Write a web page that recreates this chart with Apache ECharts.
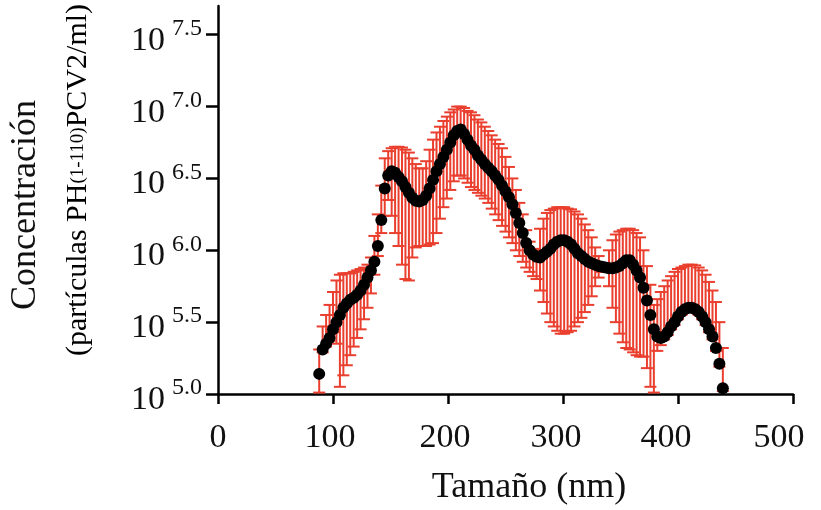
<!DOCTYPE html>
<html><head><meta charset="utf-8">
<script src="https://cdn.jsdelivr.net/npm/echarts@6/dist/echarts.min.js"></script>
<style>html,body{margin:0;padding:0;background:#fff}#c{width:821px;height:510px}</style>
</head><body><div id="c"></div>
<script>
// Particle size (nm)
const sizeNm = [88,91,94,97,100,103,106,109,112,115,118,121,124,127,130,133,136,139,142,145,148,151,154,157,160,163,166,169,172,175,178,181,184,187,190,193,196,199,202,205,208,211,214,217,220,223,226,229,232,235,238,241,244,247,250,253,256,259,262,265,268,271,274,277,280,283,286,289,292,295,298,301,304,307,310,313,316,319,322,325,328,331,334,337,340,343,346,349,352,355,358,361,364,367,370,373,376,379,382,385,388,391,394,397,400,403,406,409,412,415,418,421,424,427,430,433,436,439];
// Mean concentration, log10 exponent
const meanExp = [5.14,5.31,5.35,5.39,5.45,5.50,5.55,5.60,5.63,5.655,5.67,5.69,5.72,5.76,5.81,5.86,5.92,6.03,6.21,6.43,6.52,6.55,6.54,6.51,6.48,6.44,6.40,6.365,6.345,6.34,6.35,6.38,6.43,6.49,6.55,6.60,6.65,6.70,6.75,6.80,6.83,6.84,6.81,6.77,6.73,6.70,6.66,6.63,6.60,6.575,6.55,6.52,6.49,6.45,6.41,6.37,6.32,6.26,6.19,6.12,6.05,6.00,5.97,5.955,5.95,5.97,5.99,6.01,6.04,6.06,6.07,6.07,6.06,6.04,6.01,5.98,5.96,5.94,5.92,5.91,5.90,5.89,5.885,5.88,5.875,5.875,5.88,5.89,5.91,5.93,5.93,5.90,5.86,5.81,5.74,5.65,5.55,5.45,5.40,5.39,5.40,5.43,5.47,5.50,5.54,5.57,5.59,5.60,5.60,5.59,5.57,5.54,5.50,5.45,5.40,5.32,5.21,5.04];
// Upper end of error bar, log10 exponent
const upperExp = [5.31,5.47,5.55,5.62,5.71,5.79,5.83,5.84,5.84,5.84,5.85,5.86,5.87,5.88,5.90,5.95,6.10,6.25,6.45,6.64,6.69,6.71,6.72,6.72,6.715,6.70,6.68,6.64,6.60,6.57,6.57,6.62,6.70,6.77,6.82,6.86,6.90,6.93,6.96,6.98,7.00,7.00,6.99,6.97,6.96,6.94,6.91,6.89,6.86,6.83,6.80,6.77,6.74,6.71,6.65,6.58,6.50,6.42,6.33,6.25,6.14,6.06,6.01,6.00,6.15,6.22,6.26,6.28,6.29,6.30,6.30,6.30,6.29,6.285,6.27,6.25,6.22,6.18,6.14,6.09,6.02,5.96,5.91,5.90,6.00,6.07,6.11,6.13,6.14,6.15,6.15,6.14,6.12,6.09,6.00,5.89,5.76,5.62,5.66,5.71,5.75,5.79,5.82,5.85,5.87,5.88,5.89,5.90,5.90,5.895,5.88,5.86,5.83,5.78,5.72,5.64,5.50,5.32];
// Lower end of error bar, log10 exponent
const lowerExp = [5.01,5.29,5.33,5.37,5.43,5.35,5.05,5.13,5.20,5.27,5.33,5.39,5.45,5.52,5.60,5.70,5.83,5.96,6.12,6.24,6.35,6.24,6.12,6.03,5.90,5.80,5.79,5.95,6.02,6.03,6.03,6.03,6.04,6.05,6.12,6.22,6.30,6.36,6.42,6.48,6.52,6.52,6.50,6.47,6.44,6.42,6.40,6.38,6.36,6.33,6.29,6.25,6.21,6.17,6.13,6.09,6.05,6.00,5.96,5.92,5.88,5.85,5.82,5.80,5.72,5.64,5.56,5.50,5.47,5.44,5.42,5.42,5.43,5.44,5.47,5.50,5.53,5.57,5.62,5.68,5.75,5.81,5.85,5.86,5.75,5.60,5.50,5.42,5.36,5.32,5.31,5.29,5.27,5.26,5.26,5.18,5.05,5.01,5.30,5.34,5.38,5.41,5.45,5.48,5.52,5.55,5.57,5.58,5.58,5.57,5.55,5.52,5.48,5.43,5.38,5.30,5.19,5.02];
const yTicks = [5.0,5.5,6.0,6.5,7.0,7.5];
const xAxisTitle = 'Tamaño (nm)';
const yTitle1 = 'Concentración';

const FONT = '"Liberation Serif","Times New Roman",serif';
const RED = '#ea3f2e';
const errData = sizeNm.map((x,i)=>[x, lowerExp[i], upperExp[i]]);
const dotData = sizeNm.map((x,i)=>[x, meanExp[i]]);

function renderItem(params, api){
  const x = api.value(0), lo = api.value(1), hi = api.value(2);
  const pLo = api.coord([x, lo]), pHi = api.coord([x, hi]);
  const w = 6;
  const style = {stroke: RED, lineWidth: 2};
  return {type:'group', children:[
    {type:'line', shape:{x1:pLo[0],y1:pLo[1],x2:pHi[0],y2:pHi[1]}, style},
    {type:'line', shape:{x1:pHi[0]-w,y1:pHi[1],x2:pHi[0]+w,y2:pHi[1]}, style},
    {type:'line', shape:{x1:pLo[0]-w,y1:pLo[1],x2:pLo[0]+w,y2:pLo[1]}, style}
  ]};
}

// small left shifts of the x tick labels as in the original figure
const xShift = {0:0,100:3,200:3,300:7,400:12,500:14};
const xRich = {};
Object.keys(xShift).forEach(k=>{
  xRich['t'+k] = {fontFamily:FONT,fontSize:34,color:'#111',padding:[0,2*xShift[k],0,0]};
});

const chart = echarts.init(document.getElementById('c'));
chart.setOption({
  animation:false,
  backgroundColor:'#fff',
  grid:{left:218,right:28,top:6,bottom:116},
  xAxis:{type:'value',min:0,max:500,interval:100,
    axisLine:{lineStyle:{color:'#000',width:2.5}},
    axisTick:{length:10,lineStyle:{color:'#000',width:2.5}},
    axisLabel:{color:'#111',fontFamily:FONT,fontSize:34,margin:27,
      formatter:v=>'{t'+v+'|'+v+'}', rich:xRich},
    splitLine:{show:false}},
  yAxis:{type:'value',min:5,max:7.7,
    axisLine:{show:true,lineStyle:{color:'#000',width:2.5}},
    axisTick:{show:true,length:12,customValues:yTicks,lineStyle:{color:'#000',width:2.5}},
    axisLabel:{customValues:yTicks,margin:16,
      formatter:v=>'{b|10}{s|'+Number(v).toFixed(1)+'}',
      rich:{b:{fontFamily:FONT,fontSize:34,color:'#111',padding:[12,0,0,0]},
            s:{fontFamily:FONT,fontSize:24,color:'#111',verticalAlign:'top',padding:[5,0,0,7]}}},
    splitLine:{show:false}},
  graphic:[
    {type:'text',x:529,y:488,style:{text:xAxisTitle,font:'36px "Liberation Serif"',fill:'#111',align:'center',verticalAlign:'middle'}},
    {type:'text',x:26,y:205,rotation:Math.PI/2,style:{text:yTitle1,font:'36px "Liberation Serif"',fill:'#111',align:'center',verticalAlign:'middle'}},
    {type:'text',x:78,y:180,rotation:Math.PI/2,style:{
      text:'{n|(partículas PH}{sub|(1-110)}{n|PCV2/ml)}',
      align:'center',verticalAlign:'middle',
      rich:{n:{fontFamily:FONT,fontSize:30,color:'#111'},sub:{fontFamily:FONT,fontSize:19,color:'#111'}}}}
  ],
  series:[
    {type:'custom',renderItem,data:errData,encode:{x:0,y:[1,2]},z:1,clip:false},
    {type:'scatter',data:dotData,symbolSize:12,itemStyle:{color:'#000',opacity:1},z:2}
  ]
});
</script></body></html>
